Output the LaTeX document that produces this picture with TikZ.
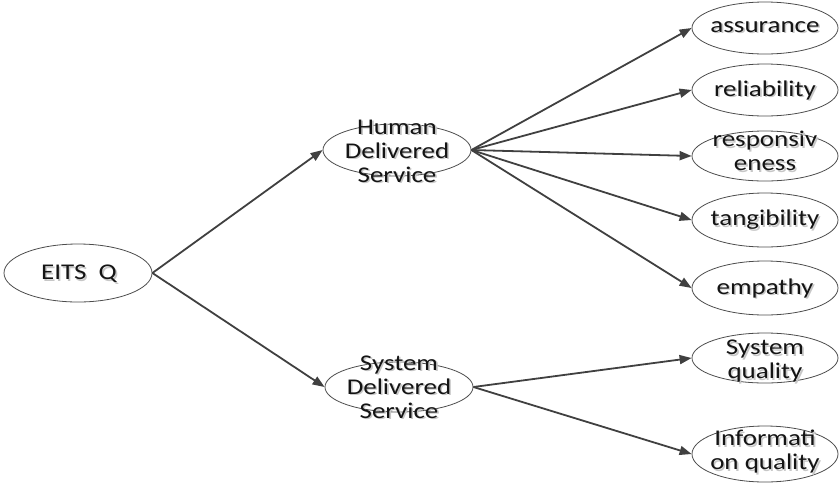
\documentclass[tikz,border=0pt]{standalone}
\usepackage{fontspec}
\setmainfont[FakeStretch=1.2]{Carlito}
\usetikzlibrary{shapes.geometric,arrows.meta}
\tikzset{
  ell/.style={ellipse, draw=black!70, line width=0.8pt, inner sep=0pt, minimum width=148pt, minimum height=#1},
  ell/.default=52pt,
  txt/.style={align=center, inner sep=0pt, font=\fontsize{22.5}{24}\selectfont, text=black!92},
  shd/.style={txt, text=black!22},
  conn/.style={draw=black!75, line width=1.8pt, -{Triangle[length=12pt,width=9pt]}}
}
\newcommand\lbl[3]{%
  \node[shd] (#1s) at ([shift={(1.6,1.6)}]#2) {#3};
  \node[txt] (#1) at (#2) {#3};}
\begin{document}
\begin{tikzpicture}[x=1pt,y=-1pt]
\useasboundingbox (0,0) rectangle (840,483);
\node[ell=58pt] (e) at (78,273) {};
\lbl{et}{79,274}{EITS\ \ Q}
\node[ell=52pt] (h) at (397,150) {};
\lbl{ht}{397,151}{Human\\Delivered\\Service}
\node[ell=50pt] (s) at (399,387) {};
\lbl{st}{399,387}{System\\Delivered\\Service}
\node[ell=52pt, minimum width=146pt] (r1) at (765,28) {};
\lbl{r1t}{765,27}{assurance}
\node[ell=52pt, minimum width=146pt] (r2) at (765,90) {};
\lbl{r2t}{765,90}{reliability}
\node[ell=50pt, minimum width=146pt] (r3) at (765,156) {};
\lbl{r3t}{765,151}{responsiv\\eness}
\node[ell=54pt, minimum width=146pt] (r4) at (765,220) {};
\lbl{r4t}{765,220}{tangibility}
\node[ell=54pt, minimum width=146pt] (r5) at (765,288) {};
\lbl{r5t}{765,288}{empathy}
\node[ell=50pt, minimum width=146pt] (q1) at (765,358) {};
\lbl{q1t}{765,361}{System\\quality}
\node[ell=56pt, minimum width=146pt] (q2) at (765,454) {};
\lbl{q2t}{765,452}{Informati\\on quality}
\draw[conn] (e.east) -- (h.west);
\draw[conn] (e.east) -- (s.west);
\foreach \t in {r1,r2,r3,r4,r5} \draw[conn] (h.east) -- (\t.west);
\draw[conn] (s.east) -- (q1.west);
\draw[conn] (s.east) -- (q2.west);
\end{tikzpicture}
\end{document}
